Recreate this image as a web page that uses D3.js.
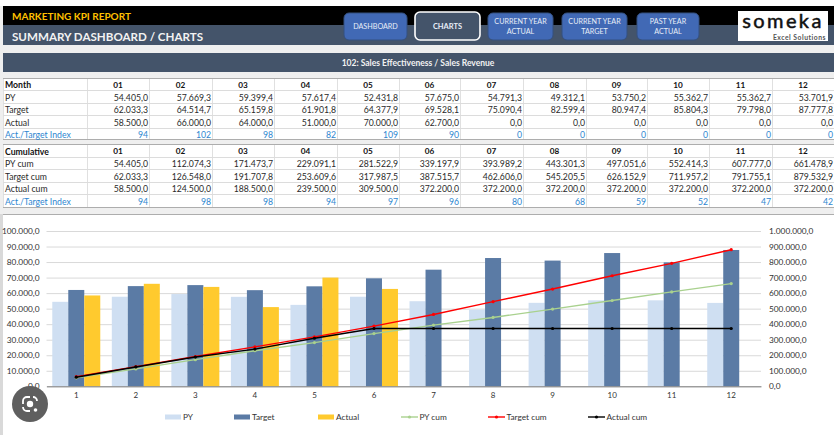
<!DOCTYPE html>
<html><head><meta charset="utf-8">
<style>html,body{margin:0;padding:0;background:#fff;overflow:hidden}svg{display:block}text{font-family:Lato,"Open Sans",sans-serif}</style>
<script src="https://cdn.jsdelivr.net/npm/d3@7"></script></head>
<body><svg id="c" width="834" height="435"></svg>
<script>
const months = ["01","02","03","04","05","06","07","08","09","10","11","12"];
const categories = [1,2,3,4,5,6,7,8,9,10,11,12];
const py = [54405.0,57669.3,59399.4,57617.4,52431.8,57675.0,54791.3,49312.1,53750.2,55362.7,55362.7,53701.9];
const target = [62033.3,64514.7,65159.8,61901.8,64377.9,69528.1,75090.4,82599.4,80947.4,85804.3,79798.0,87777.8];
const actual = [58500,66000,64000,51000,70000,62700,0,0,0,0,0,0];
const monthIndex = [94,102,98,82,109,90,0,0,0,0,0,0];
const pyCum = [54405.0,112074.3,171473.7,229091.1,281522.9,339197.9,393989.2,443301.3,497051.6,552414.3,607777.0,661478.9];
const targetCum = [62033.3,126548.0,191707.8,253609.6,317987.5,387515.7,462606.0,545205.5,626152.9,711957.2,791755.1,879532.9];
const actualCum = [58500,124500,188500,239500,309500,372200,372200,372200,372200,372200,372200,372200];
const cumIndex = [94,98,98,94,97,96,80,68,59,52,47,42];
const leftTicks = [0,10000,20000,30000,40000,50000,60000,70000,80000,90000,100000];
const rightTicks = [0,100000,200000,300000,400000,500000,600000,700000,800000,900000,1000000];
const buttons = [
  {lines:["DASHBOARD"],x:344,w:63,active:false},
  {lines:["CHARTS"],x:415,w:65,active:true},
  {lines:["CURRENT YEAR","ACTUAL"],x:488,w:65,active:false},
  {lines:["CURRENT YEAR","TARGET"],x:562,w:65,active:false},
  {lines:["PAST YEAR","ACTUAL"],x:637,w:62,active:false}
];
const colLines = [87,149,212,274,337,399,460,523,586,647,709,772];

const svg = d3.select("#c");
const loc = d3.formatLocale({decimal:",",thousands:".",grouping:[3],currency:["",""]});
const f1 = loc.format(",.1f");
const SLATE="#44546a";
const rect=(x,y,w,h,fill)=>svg.append("rect").attr("x",x).attr("y",y).attr("width",w).attr("height",h).attr("fill",fill);
const text=(s,x,y,o={})=>svg.append("text").text(s).attr("x",x).attr("y",y).attr("dominant-baseline","central")
  .attr("font-size",o.size||8.7).attr("font-weight",o.weight||400).attr("fill",o.fill||"#2a2a2a").attr("text-anchor",o.anchor||"start");

// page background and banner
rect(0,0,834,435,"#efefef");
rect(0,0,834,6,"#ffffff");
rect(3,6,831,19,"#000");
rect(3,25,831,20,SLATE);
rect(3,53,831,19,SLATE);
text("MARKETING KPI REPORT",12,16,{size:10,weight:700,fill:"#ffc000"});
text("SUMMARY DASHBOARD / CHARTS",12,36,{size:11.6,weight:700,fill:"#f2f2f2"});
text("102: Sales Effectiveness / Sales Revenue",418,63,{size:8.5,weight:700,fill:"#f2f2f2",anchor:"middle"});

buttons.forEach(b=>{
  const y=b.active?12:13,h=b.active?28:27;
  svg.append("rect").attr("x",b.x).attr("y",y).attr("width",b.w).attr("height",h).attr("rx",5)
    .attr("fill",b.active?SLATE:"#4169b5").attr("stroke",b.active?"#fff":"#34507f").attr("stroke-width",b.active?1.6:1);
  b.lines.forEach((l,i)=>text(l,b.x+b.w/2,y+h/2+(b.lines.length===1?0:(i-0.5)*10.5),
    {size:b.active?7.5:7.2,weight:b.active?700:400,fill:"#e8eef8",anchor:"middle"}));
});
// logo
rect(738,11,90,30,"#fff");
text("someka",783,20,{size:20,weight:400,fill:"#111",anchor:"middle"}).attr("letter-spacing",2.4).attr("stroke","#111").attr("stroke-width",0.5);
text("Excel Solutions",826,36.5,{size:6.8,weight:700,fill:"#555",anchor:"end"}).attr("letter-spacing",0.5);

// tables
function drawTable(top,rowEdges,head,rows){
  rect(3,top,831,rowEdges[rowEdges.length-1]-top,"#fff");
  [3].concat(colLines).forEach(x=>svg.append("line").attr("x1",x+.5).attr("x2",x+.5).attr("y1",top).attr("y2",rowEdges[rowEdges.length-1]).attr("stroke","#e0e0e0"));
  svg.append("line").attr("x1",3).attr("x2",834).attr("y1",top+.5).attr("y2",top+.5).attr("stroke","#adadad");
  rowEdges.forEach((e,i)=>svg.append("line").attr("x1",3).attr("x2",834).attr("y1",e+.5).attr("y2",e+.5)
    .attr("stroke",i===rowEdges.length-1?"#adadad":"#dcdcdc"));
  const ys=[top].concat(rowEdges);
  const mid=i=>(ys[i]+ys[i+1])/2+.5;
  text(head,5,mid(0),{weight:700,fill:"#111"});
  months.forEach((m,i)=>{
    const a=colLines[i],b=i<11?colLines[i+1]:834;
    text(m,(a+b)/2,mid(0),{size:8.2,weight:700,fill:"#111",anchor:"middle"});
  });
  rows.forEach((r,ri)=>{
    text(r.label,5,mid(ri+1),{fill:r.blue?"#2e86d0":"#2a2a2a"});
    r.values.forEach((v,i)=>{
      const b=i<11?colLines[i+1]:834;
      text(r.blue?String(v):f1(v),b-1,mid(ri+1),{anchor:"end",fill:r.blue?"#2e86d0":"#2a2a2a"});
    });
  });
}
drawTable(78,[90,103,115,128,139],"Month",[
  {label:"PY",values:py},{label:"Target",values:target},{label:"Actual",values:actual},
  {label:"Act./Target Index",values:monthIndex,blue:true}]);
drawTable(144,[157,169,182,194,207],"Cumulative",[
  {label:"PY cum",values:pyCum},{label:"Target cum",values:targetCum},{label:"Actual cum",values:actualCum},
  {label:"Act./Target Index",values:cumIndex,blue:true}]);

// chart panel
rect(3,214,831,221,"#fff");
svg.append("line").attr("x1",0).attr("x2",834).attr("y1",214.5).attr("y2",214.5).attr("stroke","#adadad");
rect(0,214,3,221,"#d9d9d9");

const X0=46.5,X1=761,YT=231,YB=386.3;
const x=d3.scaleBand().domain(categories).range([X0,X1]).paddingInner(0.194).paddingOuter(0.097);
const xIn=d3.scaleBand().domain(["py","target","actual"]).range([0,x.bandwidth()]);
const yL=d3.scaleLinear().domain([0,100000]).range([YB,YT]);
const yR=d3.scaleLinear().domain([0,1000000]).range([YB,YT]);
const cx=c=>x(c)+x.bandwidth()/2;

// grid
const grid=svg.append("g").attr("transform",`translate(${X0},0)`).call(d3.axisLeft(yL).tickValues(leftTicks).tickSize(-(X1-X0)).tickFormat(""));
grid.select(".domain").remove();
grid.selectAll("line").attr("stroke","#d9d9d9");

// bars
const barSeries=[["py",py,"#cfdff2"],["target",target,"#5b7ba5"],["actual",actual,"#ffca2e"]];
barSeries.forEach(([k,vals,col])=>{
  svg.append("g").selectAll("rect").data(vals).join("rect")
    .attr("x",(d,i)=>x(categories[i])+xIn(k)).attr("width",xIn.bandwidth())
    .attr("y",d=>yL(d)).attr("height",d=>YB-yL(d)).attr("fill",col);
});

// lines
const lineSeries=[[pyCum,"#a9d18e"],[targetCum,"#ff0000"],[actualCum,"#000000"]];
lineSeries.forEach(([vals,col])=>{
  const line=d3.line().x((d,i)=>cx(categories[i])).y(d=>yR(d));
  svg.append("path").datum(vals).attr("d",line).attr("fill","none").attr("stroke",col).attr("stroke-width",1.4);
  svg.append("g").selectAll("circle").data(vals).join("circle")
    .attr("cx",(d,i)=>cx(categories[i])).attr("cy",d=>yR(d)).attr("r",1.6).attr("fill",col);
});

// axes
const axB=svg.append("g").attr("transform",`translate(0,${YB})`).call(d3.axisBottom(x).tickSize(0).tickPadding(6));
axB.select(".domain").attr("stroke","#7f7f7f").attr("stroke-width",1);
axB.selectAll("text").attr("font-size",8).attr("fill","#333").style("font-family","Lato");
const axL=svg.append("g").attr("transform",`translate(${X0},0)`).call(d3.axisLeft(yL).tickValues(leftTicks).tickSize(0).tickPadding(7).tickFormat(f1));
axL.select(".domain").remove();
axL.selectAll("text").attr("font-size",8.3).attr("fill","#333").style("font-family","Lato");
const axR=svg.append("g").attr("transform",`translate(${X1},0)`).call(d3.axisRight(yR).tickValues(rightTicks).tickSize(0).tickPadding(8).tickFormat(f1));
axR.select(".domain").remove();
axR.selectAll("text").attr("font-size",8.3).attr("fill","#333").style("font-family","Lato");

// legend
const legendBars=[["PY","#cfdff2",165],["Target","#5b7ba5",234],["Actual","#ffca2e",318]];
legendBars.forEach(([n,c,lx])=>{rect(lx,417-2.5,16,5,c);text(n,lx+18,417,{size:8.3,fill:"#333"});});
const legendLines=[["PY cum","#a9d18e",401],["Target cum","#ff0000",488],["Actual cum","#000",588]];
legendLines.forEach(([n,c,lx])=>{
  svg.append("line").attr("x1",lx).attr("x2",lx+17).attr("y1",417).attr("y2",417).attr("stroke",c).attr("stroke-width",1.4);
  svg.append("circle").attr("cx",lx+8.5).attr("cy",417).attr("r",1.6).attr("fill",c);
  text(n,lx+18.5,417,{size:8.3,fill:"#333"});
});

// lens badge overlay
svg.append("circle").attr("cx",30).attr("cy",404).attr("r",18).attr("fill","#5f5f5f");
svg.append("circle").attr("cx",30).attr("cy",404).attr("r",3.2).attr("fill","#fff");
svg.append("path").attr("d","M23 404v-3a4 4 0 0 1 4-4h3M37 401a4 4 0 0 0-4-4M23 407a4 4 0 0 0 4 4h3").attr("fill","none").attr("stroke","#fff").attr("stroke-width",1.8);
svg.append("circle").attr("cx",35.5).attr("cy",410).attr("r",1.8).attr("fill","#fff");
</script></body></html>
